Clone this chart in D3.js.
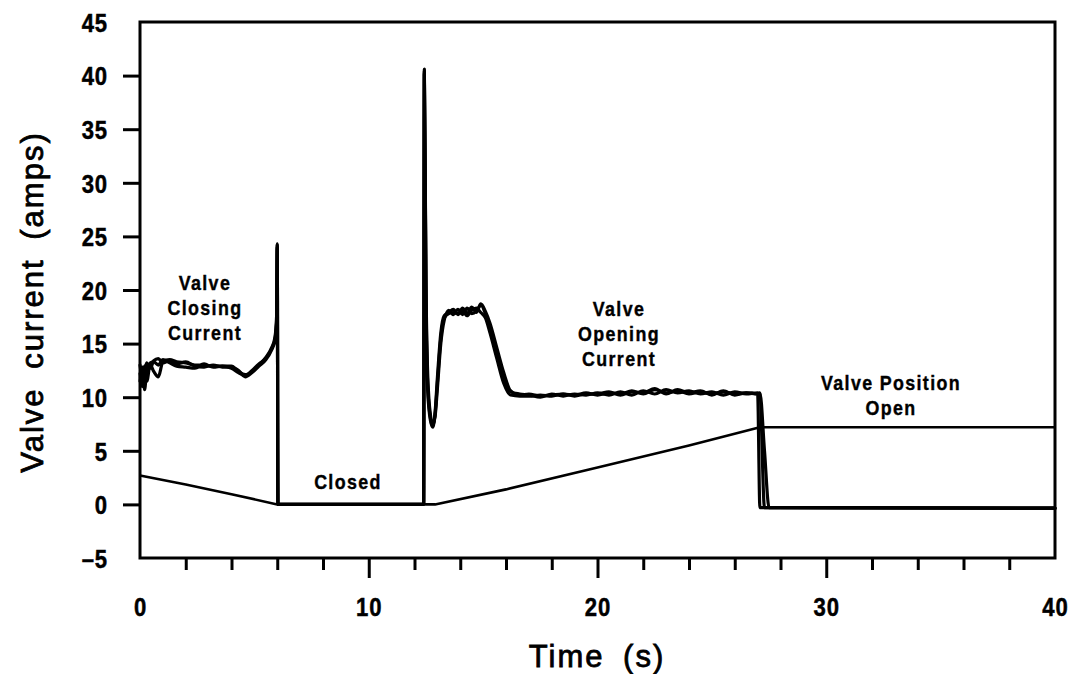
<!DOCTYPE html>
<html>
<head>
<meta charset="utf-8">
<script src="https://cdn.jsdelivr.net/npm/d3@7"></script>
<style>
  html, body { margin: 0; padding: 0; background: #fff; }
  svg { display: block; }
  .tick-label { font-family: "Liberation Sans", Arial, sans-serif; font-weight: bold; font-size: 26px; letter-spacing: 1px; fill: #000; stroke: #000; stroke-width: 0.5px; }
  .note { font-family: "Liberation Sans", Arial, sans-serif; font-weight: bold; font-size: 21px; letter-spacing: 1.6px; fill: #000; stroke: #000; stroke-width: 0.4px; }
  .axis-title { font-family: "Liberation Sans", Arial, sans-serif; font-size: 31px; letter-spacing: 2px; word-spacing: 8px; fill: #000; stroke: #000; stroke-width: 0.8px; }
</style>
</head>
<body>
<svg id="chart" width="1074" height="674"></svg>
<script>
// Sample times (s) shared by the three recorded current traces
const timeS = [
  0, 0.1, 0.2, 0.3, 0.45, 0.6, 0.8, 1.0, 1.3, 1.6, 2.0, 2.4, 2.8, 3.2, 3.6, 4.0, 4.3, 4.6, 4.9, 5.2, 5.5, 5.75, 5.9, 5.97, 6.0, 6.03,
  8, 10, 12.4, 12.43, 12.5, 12.58, 12.7, 12.8, 12.9, 13.0, 13.15, 13.3, 13.5, 13.7, 13.9, 14.1, 14.3, 14.5, 14.7, 14.9,
  15.1, 15.3, 15.6, 15.9, 16.2, 16.6, 17.0, 17.5, 18.0, 18.5, 19.0, 19.5, 20.0, 20.5, 21.0, 21.5, 22.0, 22.5, 23.0, 23.5,
  24.0, 24.5, 25.0, 25.5, 26.0, 26.5, 27.0, 27.1, 27.3, 27.5, 28, 40
];

// Valve current (amps), three overlaid runs
const currentA = [
  11.5, 12.8, 10.7, 12.6, 13.0, 12.4, 11.9, 13.3, 13.5, 13.3, 13.2, 13.0, 13.0, 12.9, 12.9, 12.7, 12.3, 12.0, 12.5, 13.1, 13.6, 14.5, 15.4, 17.0, 24.3, 0,
  0, 0, 0, 40.6, 20, 11, 8.0, 7.3, 8.4, 11.3, 15.5, 17.4, 17.8, 17.9, 17.8, 18.0, 17.6, 18.1, 18.3, 17.9,
  17.4, 16.0, 13.6, 11.3, 10.2, 10.1, 10.1, 10.2, 10.1, 10.3, 10.2, 10.4, 10.2, 10.4, 10.3, 10.6, 10.3, 10.7, 10.4, 10.6,
  10.3, 10.5, 10.3, 10.5, 10.3, 10.4, 10.3, -0.3, -0.3, -0.3, -0.3, -0.35
];
const currentB = [
  12.2, 11.0, 12.9, 11.5, 13.2, 13.3, 13.0, 13.5, 13.2, 12.9, 12.8, 12.7, 13.1, 12.8, 12.9, 12.9, 12.4, 12.1, 12.4, 13.0, 13.7, 14.6, 15.6, 17.5, 24.0, 0,
  0, 0, 0, 40.4, 21, 12, 8.3, 7.5, 8.2, 10.8, 15.0, 17.2, 18.1, 17.7, 18.2, 17.7, 18.3, 17.8, 18.0, 18.6,
  17.8, 16.6, 14.2, 11.9, 10.5, 10.3, 10.2, 10.0, 10.3, 10.1, 10.3, 10.2, 10.4, 10.2, 10.5, 10.2, 10.6, 10.3, 10.7, 10.4,
  10.6, 10.3, 10.5, 10.2, 10.5, 10.3, 10.4, 10.3, -0.3, -0.3, -0.3, -0.35
];
const currentC = [
  13.0, 12.0, 12.5, 13.2, 12.7, 13.4, 13.6, 13.2, 13.4, 13.1, 13.3, 12.9, 12.8, 13.0, 12.8, 12.8, 12.5, 11.9, 12.3, 12.9, 13.5, 14.4, 15.3, 16.8, 24.2, 0,
  0, 0, 0, 40.2, 19, 10.5, 7.8, 7.2, 8.6, 11.8, 16.0, 17.6, 17.9, 18.2, 17.7, 18.3, 17.8, 18.4, 17.9, 18.7,
  18.0, 16.9, 14.6, 12.3, 10.6, 10.2, 10.3, 10.1, 10.2, 10.3, 10.1, 10.3, 10.3, 10.5, 10.2, 10.5, 10.4, 10.8, 10.3, 10.7,
  10.4, 10.6, 10.2, 10.6, 10.2, 10.4, 10.3, 10.4, 5.0, -0.3, -0.3, -0.35
];

// Valve position trace, plotted on the same axis
const positionT = [0, 2, 4, 6.0, 12.9, 16, 20, 24, 27.1, 40];
const positionV = [2.7, 1.85, 0.95, 0.0, 0.0, 1.4, 3.45, 5.5, 7.2, 7.2];

// Axis ticks
const xMajorTicks = [10, 20, 30];
const xMinorTicks = [2, 4, 6, 8, 12, 14, 16, 18, 22, 24, 26, 28, 32, 34, 36, 38];
const xTickLabels = [0, 10, 20, 30, 40];
const yTicks = [0, 5, 10, 15, 20, 25, 30, 35, 40];
const yTickLabels = [-5, 0, 5, 10, 15, 20, 25, 30, 35, 40, 45];

// Text annotations: lines of text and the point (time, amps) each block is centred on
const notes = [
  { lines: ["Valve", "Closing", "Current"], t: 2.84, v: 18.35 },
  { lines: ["Closed"], t: 9.09, v: 2.15 },
  { lines: ["Valve", "Opening", "Current"], t: 20.94, v: 15.95 },
  { lines: ["Valve Position", "Open"], t: 32.83, v: 10.25 }
];

const svg = d3.select("#chart");
const plotLeft = 140, plotRight = 1055, plotTop = 22, plotBottom = 558;
const narrow = 0.85; // horizontal squeeze for the condensed lettering

const x = d3.scaleLinear().domain([0, 40]).range([plotLeft, plotRight]);
const y = d3.scaleLinear().domain([-5, 45]).range([plotBottom, plotTop]);

// Frame
svg.append("rect")
  .attr("x", plotLeft).attr("y", plotTop)
  .attr("width", plotRight - plotLeft).attr("height", plotBottom - plotTop)
  .attr("fill", "none").attr("stroke", "#000").attr("stroke-width", 3);

function styleTicks(g) {
  g.select(".domain").remove();
  g.selectAll(".tick line").attr("stroke", "#000").attr("stroke-width", 3);
}

// X ticks
svg.append("g").attr("transform", `translate(0,${plotBottom})`)
  .call(d3.axisBottom(x).tickValues(xMinorTicks).tickSize(12).tickFormat(""))
  .call(styleTicks);
svg.append("g").attr("transform", `translate(0,${plotBottom})`)
  .call(d3.axisBottom(x).tickValues(xMajorTicks).tickSize(20).tickFormat(""))
  .call(styleTicks);
const xLab = svg.append("g").attr("transform", `translate(0,${plotBottom})`)
  .call(d3.axisBottom(x).tickValues(xTickLabels).tickSize(0).tickPadding(40).tickFormat(d3.format("d")));
xLab.select(".domain").remove();
xLab.attr("font-size", null).attr("font-family", null);
xLab.selectAll("text").attr("class", "tick-label")
  .attr("transform", `scale(${narrow},1)`);

// Y ticks
svg.append("g").attr("transform", `translate(${plotLeft},0)`)
  .call(d3.axisLeft(y).tickValues(yTicks).tickSize(17).tickFormat(""))
  .call(styleTicks);
const yLab = svg.append("g").attr("transform", `translate(${plotLeft},0)`)
  .call(d3.axisLeft(y).tickValues(yTickLabels).tickSize(0).tickPadding(32).tickFormat(d => d < 0 ? "\u2013" + Math.abs(d) : String(d)));
yLab.select(".domain").remove();
yLab.attr("font-size", null).attr("font-family", null);
yLab.selectAll("text").attr("class", "tick-label").attr("dy", "0.36em")
  .attr("x", -32 / narrow)
  .attr("transform", `scale(${narrow},1)`);

// Axis titles
svg.append("text").attr("class", "axis-title")
  .attr("x", 597).attr("y", 667).attr("text-anchor", "middle")
  .text("Time (s)");
svg.append("text").attr("class", "axis-title")
  .attr("transform", "translate(43,302) rotate(-90)")
  .attr("text-anchor", "middle")
  .text("Valve current (amps)");

// Data lines
const line = d3.line().x(d => x(d[0])).y(d => y(d[1]));
const smoothLine = d3.line().x(d => x(d[0])).y(d => y(d[1])).curve(d3.curveMonotoneX);

svg.append("path")
  .datum(positionT.map((t, i) => [t, positionV[i]]))
  .attr("d", line)
  .attr("fill", "none").attr("stroke", "#000").attr("stroke-width", 2.6)
  .attr("stroke-linejoin", "round");

[currentA, currentB, currentC].forEach(series => {
  svg.append("path")
    .datum(timeS.map((t, i) => [t, series[i]]))
    .attr("d", smoothLine)
    .attr("fill", "none").attr("stroke", "#000").attr("stroke-width", 3.2)
    .attr("stroke-linejoin", "round").attr("stroke-linecap", "round");
});

// Annotations
const lineGap = 25;
notes.forEach(n => {
  const cx = x(n.t), cy = y(n.v);
  n.lines.forEach((s, i) => {
    svg.append("text").attr("class", "note")
      .attr("text-anchor", "middle")
      .attr("dy", "0.36em")
      .attr("transform", `translate(${cx},${cy + (i - (n.lines.length - 1) / 2) * lineGap}) scale(${narrow},1)`)
      .text(s);
  });
});
</script>
</body>
</html>
